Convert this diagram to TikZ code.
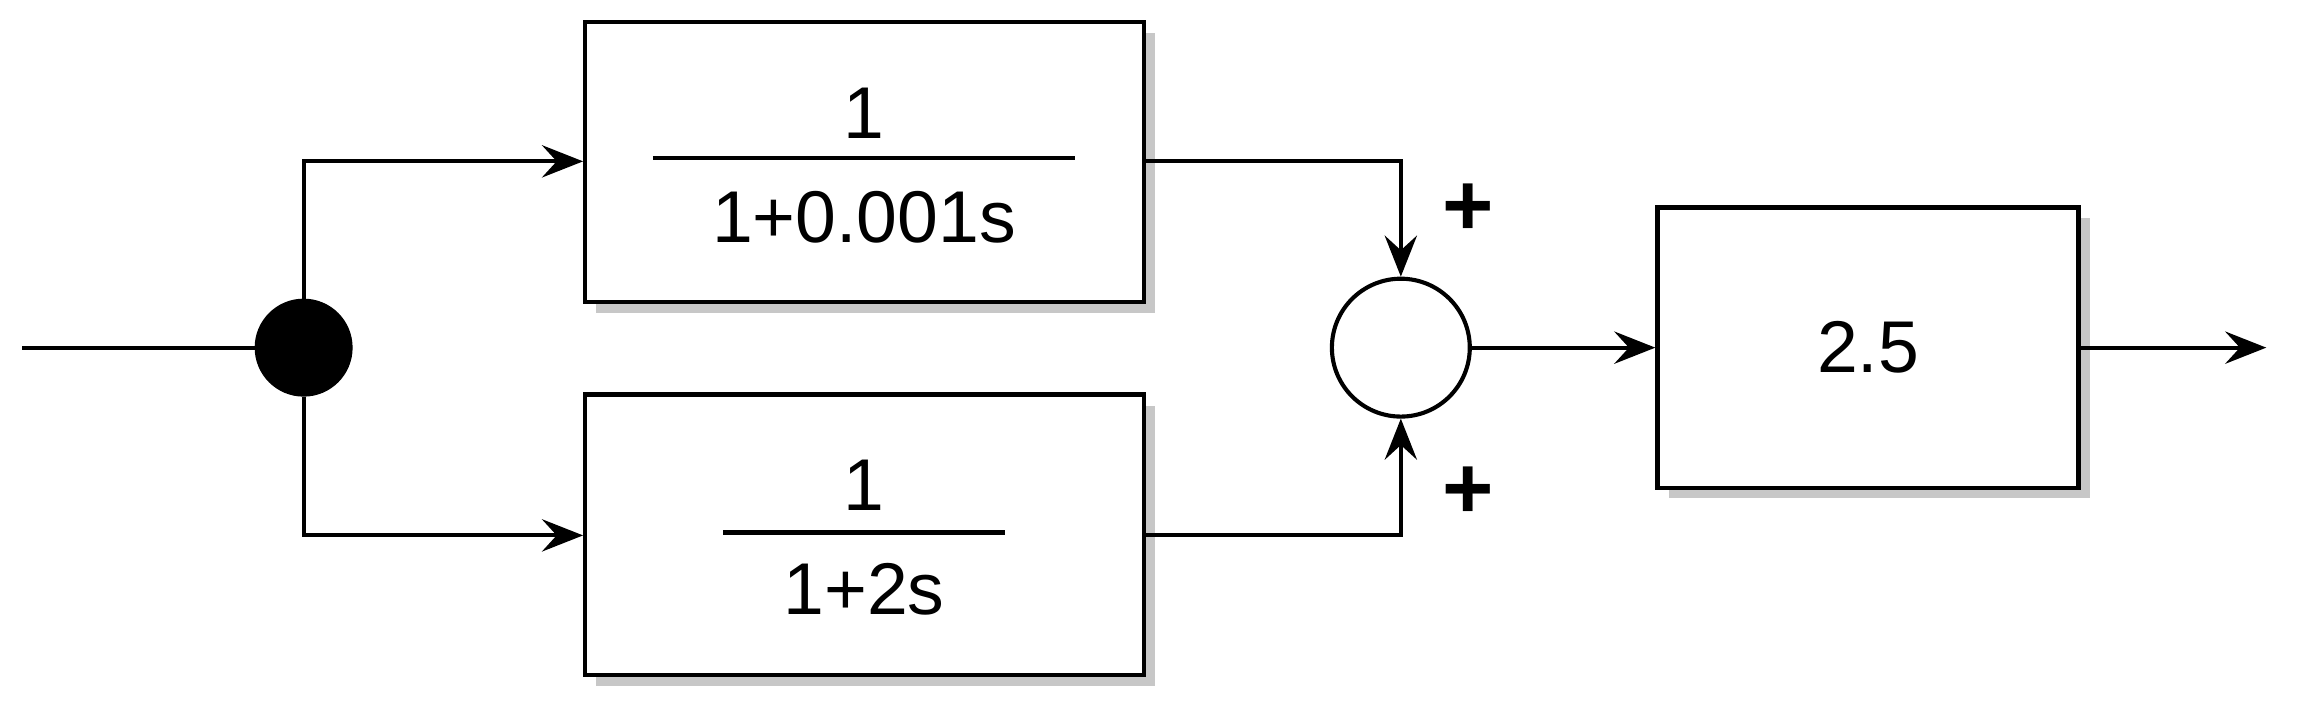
\documentclass[tikz,border=0pt]{standalone}
\usepackage{fontspec}
\setmainfont{Liberation Sans}
\usetikzlibrary{arrows.meta}
\begin{document}
\begin{tikzpicture}[x=0.5pt,y=-0.5pt,
  line/.style={line width=1.4pt},
  arr/.style={line, -{Stealth[length=14pt,width=11pt,inset=5pt]}},
  blk/.style={draw, line width=1.5pt, fill=white, minimum width=190.5pt, minimum height=95.5pt, inner sep=0pt},
  shadow/.style={fill=black!22, draw=none, minimum width=190.5pt, minimum height=95.5pt},
  txt/.style={font=\fontsize{25}{30}\selectfont}]
\useasboundingbox (0,0) rectangle (1568,482);
% shadows
\node[shadow] at (597,118) {};
\node[shadow] at (597,372) {};
\node[shadow,minimum width=143.5pt] at (1281,244) {};
% blocks
\node[blk] (b1) at (589.5,110.5) {};
\node[blk] (b2) at (589.5,364.5) {};
\node[blk,minimum width=143.5pt] (b3) at (1273.5,237) {};
% fractions
\node[txt] (n1) at (589,77) {1};
\draw[line] (445,108) -- (733,108);
\node[txt] (d1) at (589,148) {1+0.001s};
\node[txt] (n2) at (589,331) {1};
\draw[line] (493,363) -- (685,363);
\node[txt] (d2) at (589,402) {1+2s};
\node[txt] (g) at (1273.5,237) {2.5};
% junction and sum
\node[circle, fill=black, draw, minimum size=33pt, inner sep=0pt] (j) at (207,237) {};
\node[circle, draw, line width=1.4pt, fill=white, minimum size=47pt, inner sep=0pt] (s) at (955,237) {};
\coordinate (in) at (15,237);
\coordinate (out) at (1545,237);
\draw[line] (in) -- (j);
\draw[arr] (j) |- (b1.west |- 0,110);
\draw[arr] (j) |- (b2.west |- 0,365);
\draw[arr] (b1.east |- 0,110) -| (s.north);
\draw[arr] (b2.east |- 0,365) -| (s.south);
\draw[arr] (s) -- (b3);
\draw[arr] (b3) -- (out);
\node[font=\fontsize{30}{30}\selectfont\bfseries] (p1) at (1001,143) {+};
\node[font=\fontsize{30}{30}\selectfont\bfseries] (p2) at (1001,336) {+};
\end{tikzpicture}
\end{document}
